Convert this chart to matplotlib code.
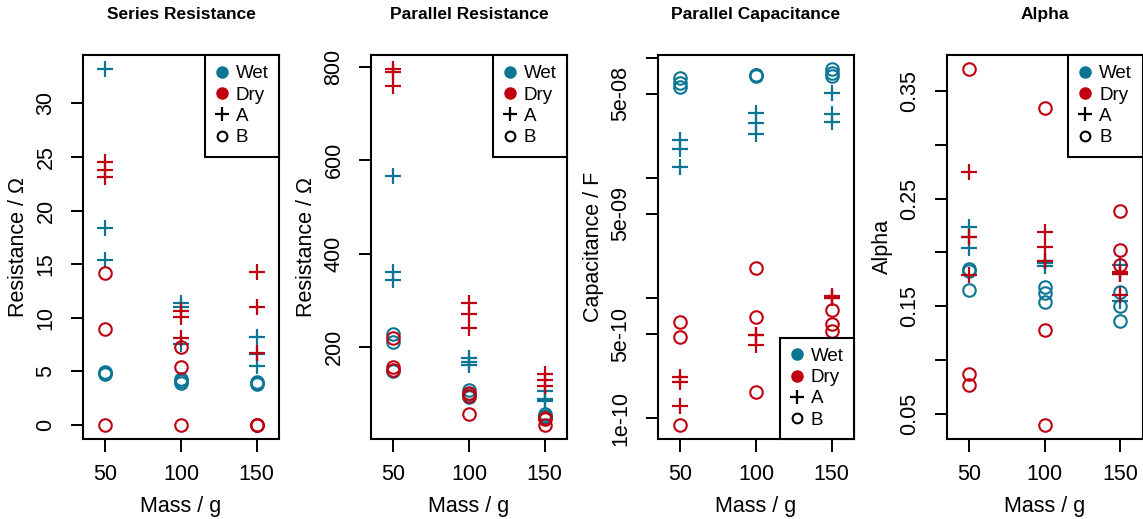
import numpy as np
import matplotlib
matplotlib.use("Agg")
import matplotlib.pyplot as plt
from matplotlib.lines import Line2D

plt.rcParams['font.family'] = ['Liberation Sans', 'DejaVu Sans']

# three readings per mass for every group
mass = [50, 50, 50, 100, 100, 100, 150, 150, 150]

rs_wet_a = [33.2, 18.4, 15.4, 11.4, 11.0, 7.5, 8.2, 6.6, 5.5]
rs_wet_b = [4.9, 4.8, 4.7, 4.3, 4.1, 3.9, 4.0, 3.9, 3.8]
rs_dry_a = [24.5, 23.8, 23.1, 10.6, 10.1, 8.1, 14.3, 11.0, 6.7]
rs_dry_b = [14.2, 8.9, 0.0, 7.3, 5.4, 0.0, 0.0, 0.0, 0.0]

rp_wet_a = [566, 361, 344, 176, 168, 161, 106, 88, 84]
rp_wet_b = [227, 211, 148, 107, 99, 92, 56, 52, 49]
rp_dry_a = [795, 788, 760, 293, 270, 241, 142, 129, 117]
rp_dry_b = [220, 157, 150, 101, 94, 57, 48, 45, 33]

cp_wet_a = [2.06e-08, 1.72e-08, 1.24e-08, 3.44e-08, 2.84e-08, 2.33e-08, 5.04e-08, 3.38e-08, 2.91e-08]
cp_wet_b = [6.8e-08, 6.2e-08, 5.7e-08, 7.2e-08, 7.1e-08, 7.0e-08, 8.0e-08, 7.5e-08, 7.0e-08]
cp_dry_a = [2.18e-10, 2.0e-10, 1.25e-10, 4.95e-10, 4.9e-10, 4.09e-10, 1.04e-09, 1.0e-09, 1.0e-09]
cp_dry_b = [6.26e-10, 4.73e-10, 8.8e-11, 1.78e-09, 6.95e-10, 1.65e-10, 7.9e-10, 6.06e-10, 5.27e-10]

al_wet_a = [0.224, 0.214, 0.204, 0.192, 0.187, 0.190, 0.188, 0.180, 0.155]
al_wet_b = [0.185, 0.183, 0.165, 0.168, 0.162, 0.154, 0.163, 0.150, 0.136]
al_dry_a = [0.275, 0.214, 0.179, 0.219, 0.205, 0.192, 0.182, 0.180, 0.160]
al_dry_b = [0.370, 0.087, 0.077, 0.334, 0.128, 0.040, 0.238, 0.202, 0.188]

titles = ["Series Resistance", "Parallel Resistance", "Parallel Capacitance", "Alpha"]
ylabels = ["Resistance / \u03a9", "Resistance / \u03a9", "Capacitance / F", "Alpha"]
xticks = [50, 100, 150]

WET = '#0b7594'
DRY = '#c00010'

panels = [
    (rs_wet_a, rs_wet_b, rs_dry_a, rs_dry_b),
    (rp_wet_a, rp_wet_b, rp_dry_a, rp_dry_b),
    (cp_wet_a, cp_wet_b, cp_dry_a, cp_dry_b),
    (al_wet_a, al_wet_b, al_dry_a, al_dry_b),
]

yticks = [
    ([0, 5, 10, 15, 20, 25, 30], ['0', '5', '10', '15', '20', '25', '30']),
    ([200, 400, 600, 800], ['200', '400', '600', '800']),
    ([1e-10, 5e-10, 1e-09, 5e-09, 1e-08, 5e-08, 1e-07],
     ['1e-10', '5e-10', '', '5e-09', '', '5e-08', '']),
    ([0.05, 0.10, 0.15, 0.20, 0.25, 0.30, 0.35],
     ['0.05', '', '0.15', '', '0.25', '', '0.35']),
]

W, H = 1143, 519
fig = plt.figure(figsize=(W / 100, H / 100), dpi=100)
lefts = [83, 371, 658, 946.5]
aw, ah = 196, 384
top = 55


def r_range(lo, hi, log=False):
    if log:
        lo, hi = np.log10(lo), np.log10(hi)
        d = (hi - lo) * 0.04
        return 10 ** (lo - d), 10 ** (hi + d)
    d = (hi - lo) * 0.04
    return lo - d, hi + d


for i, (wa, wb, da, db) in enumerate(panels):
    ax = fig.add_axes([lefts[i] / W, (H - top - ah) / H, aw / W, ah / H])
    log = (i == 2)
    if log:
        ax.set_yscale('log')
    for vals, col, mk in [(wa, WET, '+'), (wb, WET, 'o'), (da, DRY, '+'), (db, DRY, 'o')]:
        if mk == '+':
            ax.plot(mass, vals, ls='none', marker='+', ms=12, mew=1.6, color=col)
        else:
            ax.plot(mass, vals, ls='none', marker='o', ms=9, mew=1.5,
                    mfc='none', mec=col)
    allv = np.concatenate([wa, wb, da, db])
    ax.set_ylim(*r_range(allv.min(), allv.max(), log))
    ax.set_xlim(*r_range(40, 160))
    ax.set_xticks(xticks)
    ax.set_xticklabels([str(t) for t in xticks])
    ax.set_yticks(yticks[i][0])
    ax.set_yticklabels(yticks[i][1], rotation=90, va='center')
    ax.minorticks_off()
    ax.tick_params(direction='out', length=9, width=1.4, labelsize=15.5)
    ax.tick_params(axis='y', pad=10)
    ax.tick_params(axis='x', pad=9)
    for s in ax.spines.values():
        s.set_linewidth(1.5)
    ax.set_xlabel("Mass / g", fontsize=15.5)
    ax.set_ylabel(ylabels[i], fontsize=15.5)
    ax.xaxis.set_label_coords(0.5, -57 / ah)
    ax.yaxis.set_label_coords(-54 / aw, 0.5)
    ax.text(0.5, 1 + 41 / ah, titles[i], transform=ax.transAxes, ha='center',
            va='center', fontsize=12.5, fontweight='bold')

    handles = [
        Line2D([], [], ls='none', marker='o', ms=8, color=WET),
        Line2D([], [], ls='none', marker='o', ms=8, color=DRY),
        Line2D([], [], ls='none', marker='+', ms=10, mew=1.6, color='black'),
        Line2D([], [], ls='none', marker='o', ms=7, mew=1.5, mfc='none', mec='black'),
    ]
    leg = ax.legend(handles, ['Wet', 'Dry', 'A', 'B'],
                    loc='lower right' if log else 'upper right',
                    borderaxespad=0, fancybox=False, framealpha=1,
                    edgecolor='black', fontsize=13.5, handlelength=0.7,
                    handletextpad=0.4, labelspacing=0.22, borderpad=0.55)
    leg.get_frame().set_linewidth(1.5)

fig.savefig("out.png", dpi=100)
